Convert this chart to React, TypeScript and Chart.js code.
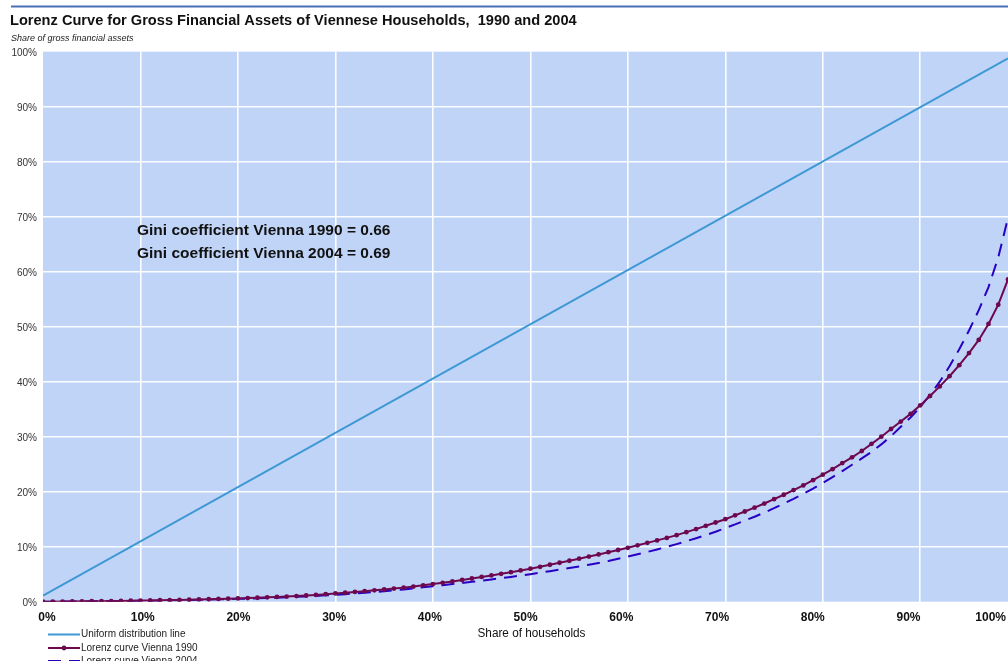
import React, { useEffect, useRef } from "react";
import { Chart, registerables } from "chart.js";

Chart.register(...registerables);

// Share of households (category index, percent)
const householdShare = [
  0, 1, 2, 3, 4, 5, 6, 7, 8, 9,
  10, 11, 12, 13, 14, 15, 16, 17, 18, 19,
  20, 21, 22, 23, 24, 25, 26, 27, 28, 29,
  30, 31, 32, 33, 34, 35, 36, 37, 38, 39,
  40, 41, 42, 43, 44, 45, 46, 47, 48, 49,
  50, 51, 52, 53, 54, 55, 56, 57, 58, 59,
  60, 61, 62, 63, 64, 65, 66, 67, 68, 69,
  70, 71, 72, 73, 74, 75, 76, 77, 78, 79,
  80, 81, 82, 83, 84, 85, 86, 87, 88, 89,
  90, 91, 92, 93, 94, 95, 96, 97, 98, 99,
];

const lorenz1990 = [
  0.0, 0.01, 0.03, 0.04, 0.06, 0.08, 0.1, 0.12, 0.14, 0.17,
  0.2, 0.23, 0.26, 0.29, 0.33, 0.37, 0.41, 0.45, 0.5, 0.55,
  0.6, 0.66, 0.72, 0.79, 0.86, 0.94, 1.03, 1.13, 1.24, 1.37,
  1.5, 1.63, 1.77, 1.91, 2.06, 2.22, 2.38, 2.56, 2.75, 2.97,
  3.2, 3.44, 3.69, 3.95, 4.22, 4.5, 4.78, 5.07, 5.37, 5.68,
  6.0, 6.35, 6.72, 7.08, 7.45, 7.82, 8.2, 8.6, 9.0, 9.4,
  9.8, 10.25, 10.7, 11.15, 11.6, 12.1, 12.65, 13.2, 13.8, 14.4,
  15.0, 15.7, 16.4, 17.1, 17.85, 18.65, 19.45, 20.3, 21.15, 22.1,
  23.1, 24.1, 25.2, 26.25, 27.4, 28.7, 30.0, 31.4, 32.75, 34.15,
  35.7, 37.4, 39.15, 41.0, 43.0, 45.2, 47.6, 50.5, 54.0, 58.6,
];

const lorenz2004 = [
  0.0, 0.01, 0.02, 0.03, 0.05, 0.06, 0.08, 0.1, 0.12, 0.14,
  0.17, 0.19, 0.22, 0.25, 0.28, 0.31, 0.35, 0.39, 0.43, 0.47,
  0.52, 0.57, 0.62, 0.68, 0.74, 0.81, 0.88, 0.96, 1.05, 1.15,
  1.26, 1.37, 1.49, 1.62, 1.76, 1.91, 2.07, 2.24, 2.42, 2.61,
  2.8, 3.0, 3.2, 3.4, 3.61, 3.83, 4.05, 4.28, 4.51, 4.75,
  5.0, 5.27, 5.55, 5.83, 6.12, 6.42, 6.73, 7.05, 7.4, 7.8,
  8.2, 8.62, 9.05, 9.5, 9.97, 10.47, 11.0, 11.55, 12.12, 12.72,
  13.4, 14.05, 14.75, 15.45, 16.2, 17.0, 17.85, 18.7, 19.6, 20.55,
  21.6, 22.65, 23.75, 24.9, 26.05, 27.25, 28.6, 30.1, 31.8, 33.5,
  35.4, 37.6, 40.0, 42.8, 45.9, 49.3, 53.0, 57.2, 62.6, 69.8,
];

// Uniform distribution line end points (household index, share %)
const uniformX = [0, 99];
const uniformY = [1.1, 98.8];

const xTickLabels = ["0%", "10%", "20%", "30%", "40%", "50%", "60%", "70%", "80%", "90%", "100%"];
const yTickValues = [0, 10, 20, 30, 40, 50, 60, 70, 80, 90, 100];

const TITLE = "Lorenz Curve for Gross Financial Assets of Viennese Households,  1990 and 2004";
const SUBTITLE = "Share of gross financial assets";
const X_TITLE = "Share of households";
const NOTES = ["Gini coefficient Vienna 1990 = 0.66", "Gini coefficient Vienna 2004 = 0.69"];
const LEGEND = ["Uniform distribution line", "Lorenz curve Vienna 1990", "Lorenz curve Vienna 2004"];

const FONT = 'Arial, "Liberation Sans", sans-serif';
const PLOT_BG = "rgb(192,212,248)";
const C_UNIFORM = "rgb(62,152,212)";
const C_1990 = "rgb(110,8,78)";
const C_2004 = "rgb(40,0,195)";
const DASH = [13, 8];

const decor = {
  id: "decor",
  beforeDraw(chart: any) {
    const { ctx, chartArea: a } = chart;
    ctx.save();
    ctx.fillStyle = "#ffffff";
    ctx.fillRect(0, 0, chart.width, chart.height);
    ctx.fillStyle = PLOT_BG;
    ctx.fillRect(a.left, a.top, a.right - a.left, a.bottom - a.top);
    ctx.restore();
  },
  afterDraw(chart: any) {
    const { ctx } = chart;
    const xs = chart.scales.x;
    const ys = chart.scales.y;
    ctx.save();
    // top rule
    ctx.strokeStyle = "rgb(74,110,182)";
    ctx.lineWidth = 2;
    ctx.beginPath();
    ctx.moveTo(11, 6.5);
    ctx.lineTo(chart.width, 6.5);
    ctx.stroke();

    // title
    ctx.fillStyle = "#111";
    ctx.textBaseline = "middle";
    ctx.textAlign = "left";
    ctx.font = `bold 14.6px ${FONT}`;
    ctx.fillText(TITLE, 10, 21, 568);
    ctx.font = `italic 9px ${FONT}`;
    ctx.fillStyle = "#222";
    ctx.fillText(SUBTITLE, 11, 38, 123);

    // y tick labels
    ctx.font = `10px ${FONT}`;
    ctx.fillStyle = "#333";
    ctx.textAlign = "right";
    yTickValues.forEach((v) => {
      ctx.fillText(`${v}%`, 37, ys.getPixelForValue(v) + 2);
    });

    // x tick labels
    ctx.font = `bold 12px ${FONT}`;
    ctx.fillStyle = "#111";
    xTickLabels.forEach((t, k) => {
      if (k === xTickLabels.length - 1) {
        ctx.textAlign = "right";
        ctx.fillText(t, 1006, 617.5);
      } else {
        ctx.textAlign = "center";
        ctx.fillText(t, xs.getPixelForValue(k * 9.82) + 4, 617.5);
      }
    });

    // x axis title
    ctx.font = `12px ${FONT}`;
    ctx.textAlign = "center";
    ctx.fillStyle = "#111";
    ctx.fillText(X_TITLE, 531.5, 633.5, 108);

    // annotations
    ctx.font = `bold 15.5px ${FONT}`;
    ctx.textAlign = "left";
    ctx.fillStyle = "#111";
    ctx.fillText(NOTES[0], 137, 231, 256);
    ctx.fillText(NOTES[1], 137, 254, 256);

    // legend
    const rows = [634.5, 648, 661];
    const x0 = 48;
    const x1 = 80;
    ctx.lineWidth = 2;
    ctx.strokeStyle = C_UNIFORM;
    ctx.beginPath();
    ctx.moveTo(x0, rows[0]);
    ctx.lineTo(x1, rows[0]);
    ctx.stroke();
    ctx.strokeStyle = C_1990;
    ctx.beginPath();
    ctx.moveTo(x0, rows[1]);
    ctx.lineTo(x1, rows[1]);
    ctx.stroke();
    ctx.fillStyle = C_1990;
    ctx.beginPath();
    ctx.arc((x0 + x1) / 2, rows[1], 2.4, 0, Math.PI * 2);
    ctx.fill();
    ctx.strokeStyle = C_2004;
    ctx.setLineDash(DASH);
    ctx.beginPath();
    ctx.moveTo(x0, rows[2]);
    ctx.lineTo(x1, rows[2]);
    ctx.stroke();
    ctx.setLineDash([]);
    ctx.font = `10px ${FONT}`;
    ctx.fillStyle = "#222";
    ctx.textAlign = "left";
    LEGEND.forEach((t, i) => ctx.fillText(t, 81, rows[i]));
    ctx.restore();
  },
};

const gridColor = (ctx: any) => {
  const v = ctx.tick ? ctx.tick.value : 0;
  const scale = ctx.scale;
  if (v <= scale.min || v >= scale.max) return "rgba(0,0,0,0)";
  return "rgba(255,255,255,0.95)";
};

export default function App() {
  const ref = useRef<HTMLCanvasElement | null>(null);
  useEffect(() => {
    if (!ref.current) return;
    const chart = new Chart(ref.current, {
      type: "line",
      data: {
        datasets: [
          {
            label: LEGEND[1],
            data: householdShare.map((x, i) => ({ x, y: lorenz1990[i] })),
            borderColor: C_1990,
            backgroundColor: C_1990,
            borderWidth: 2,
            pointRadius: 2.4,
            pointBorderWidth: 0,
            pointBackgroundColor: C_1990,
            fill: false,
          },
          {
            label: LEGEND[2],
            data: householdShare.map((x, i) => ({ x, y: lorenz2004[i] })),
            borderColor: C_2004,
            borderWidth: 2,
            borderDash: DASH,
            pointRadius: 0,
            fill: false,
          },
          {
            label: LEGEND[0],
            data: uniformX.map((x, i) => ({ x, y: uniformY[i] })),
            borderColor: C_UNIFORM,
            borderWidth: 2,
            pointRadius: 0,
            fill: false,
          },
        ],
      },
      options: {
        responsive: false,
        animation: false,
        events: [],
        layout: { padding: { left: 43, right: 1.3, top: 51.7, bottom: 59.3 } },
        plugins: {
          legend: { display: false },
          tooltip: { enabled: false },
          title: { display: false },
        },
        scales: {
          x: {
            type: "linear",
            min: 0,
            max: 99,
            ticks: { display: false, stepSize: 10 },
            grid: { color: gridColor, lineWidth: 1.6, drawTicks: false },
            border: { display: false },
          },
          y: {
            type: "linear",
            min: 0,
            max: 100,
            ticks: { display: false, stepSize: 10 },
            grid: { color: gridColor, lineWidth: 1.6, drawTicks: false },
            border: { display: false },
          },
        },
      },
      plugins: [decor],
    } as any);
    return () => chart.destroy();
  }, []);

  return (
    <div
      style={{
        position: "fixed",
        left: 0,
        top: 0,
        width: 1008,
        height: 661,
        overflow: "hidden",
        background: "#fff",
      }}
    >
      <canvas ref={ref} width={1012} height={661} style={{ display: "block" }} />
    </div>
  );
}
